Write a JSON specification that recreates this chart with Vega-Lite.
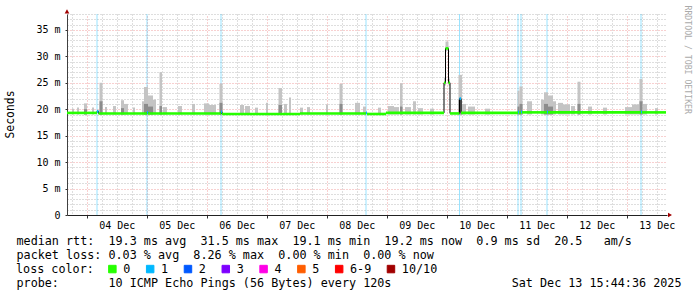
{
  "$schema": "https://vega.github.io/schema/vega-lite/v6.json",
  "width": 600,
  "height": 201,
  "autosize": {"type": "none"},
  "padding": {"left": 67, "top": 14, "right": 30, "bottom": 82},
  "background": "white",
  "config": {"view": {"stroke": null}, "font": "DejaVu Sans Mono"},
  "datasets": {
    "smoke": [
      {"t0": "2025-12-03T18:07:00Z", "t1": "2025-12-03T18:55:00Z", "lo": 19.0, "hi": 20.1},
      {"t0": "2025-12-03T20:07:00Z", "t1": "2025-12-03T20:55:00Z", "lo": 19.0, "hi": 20.3},
      {"t0": "2025-12-03T22:55:00Z", "t1": "2025-12-04T00:07:00Z", "lo": 19.0, "hi": 21.1, "mid": 20.0},
      {"t0": "2025-12-04T02:07:00Z", "t1": "2025-12-04T02:55:00Z", "lo": 19.0, "hi": 20.3},
      {"t0": "2025-12-04T05:07:00Z", "t1": "2025-12-04T06:19:00Z", "lo": 19.0, "hi": 25.0, "mid": 21.5},
      {"t0": "2025-12-04T07:19:00Z", "t1": "2025-12-04T08:07:00Z", "lo": 19.0, "hi": 20.4},
      {"t0": "2025-12-04T10:31:00Z", "t1": "2025-12-04T11:43:00Z", "lo": 19.0, "hi": 20.6},
      {"t0": "2025-12-04T13:43:00Z", "t1": "2025-12-04T14:55:00Z", "lo": 19.0, "hi": 21.7, "mid": 20.2},
      {"t0": "2025-12-04T14:55:00Z", "t1": "2025-12-04T16:31:00Z", "lo": 19.0, "hi": 21.0},
      {"t0": "2025-12-04T18:31:00Z", "t1": "2025-12-04T19:19:00Z", "lo": 19.0, "hi": 20.3},
      {"t0": "2025-12-04T22:07:00Z", "t1": "2025-12-04T22:55:00Z", "lo": 19.0, "hi": 21.5},
      {"t0": "2025-12-04T22:55:00Z", "t1": "2025-12-05T00:31:00Z", "lo": 19.0, "hi": 24.2, "mid": 21.0},
      {"t0": "2025-12-05T00:31:00Z", "t1": "2025-12-05T02:31:00Z", "lo": 19.0, "hi": 22.6, "mid": 20.5},
      {"t0": "2025-12-05T02:31:00Z", "t1": "2025-12-05T03:43:00Z", "lo": 19.0, "hi": 21.8},
      {"t0": "2025-12-05T05:07:00Z", "t1": "2025-12-05T06:07:00Z", "lo": 19.0, "hi": 27.0, "mid": 20.6},
      {"t0": "2025-12-05T06:31:00Z", "t1": "2025-12-05T08:07:00Z", "lo": 19.0, "hi": 20.4},
      {"t0": "2025-12-05T12:31:00Z", "t1": "2025-12-05T14:07:00Z", "lo": 19.0, "hi": 20.6},
      {"t0": "2025-12-05T18:07:00Z", "t1": "2025-12-05T19:19:00Z", "lo": 19.0, "hi": 21.0},
      {"t0": "2025-12-05T22:55:00Z", "t1": "2025-12-06T00:55:00Z", "lo": 19.0, "hi": 21.1},
      {"t0": "2025-12-06T00:55:00Z", "t1": "2025-12-06T03:43:00Z", "lo": 19.0, "hi": 20.8},
      {"t0": "2025-12-06T05:07:00Z", "t1": "2025-12-06T06:19:00Z", "lo": 19.0, "hi": 24.8, "mid": 21.2},
      {"t0": "2025-12-06T13:19:00Z", "t1": "2025-12-06T14:55:00Z", "lo": 19.0, "hi": 20.8},
      {"t0": "2025-12-06T15:19:00Z", "t1": "2025-12-06T17:19:00Z", "lo": 19.0, "hi": 20.6},
      {"t0": "2025-12-06T19:19:00Z", "t1": "2025-12-06T20:31:00Z", "lo": 19.0, "hi": 20.3},
      {"t0": "2025-12-06T23:43:00Z", "t1": "2025-12-07T00:31:00Z", "lo": 19.0, "hi": 21.2},
      {"t0": "2025-12-07T04:43:00Z", "t1": "2025-12-07T06:07:00Z", "lo": 19.0, "hi": 24.0, "mid": 20.8},
      {"t0": "2025-12-07T06:55:00Z", "t1": "2025-12-07T08:07:00Z", "lo": 19.0, "hi": 21.0},
      {"t0": "2025-12-07T08:55:00Z", "t1": "2025-12-07T09:43:00Z", "lo": 19.0, "hi": 22.2},
      {"t0": "2025-12-07T13:19:00Z", "t1": "2025-12-07T14:31:00Z", "lo": 19.0, "hi": 20.3},
      {"t0": "2025-12-07T16:07:00Z", "t1": "2025-12-07T17:19:00Z", "lo": 19.0, "hi": 20.4},
      {"t0": "2025-12-07T23:43:00Z", "t1": "2025-12-08T00:31:00Z", "lo": 19.0, "hi": 20.9},
      {"t0": "2025-12-08T05:07:00Z", "t1": "2025-12-08T06:19:00Z", "lo": 19.0, "hi": 24.8, "mid": 21.0},
      {"t0": "2025-12-08T11:19:00Z", "t1": "2025-12-08T13:19:00Z", "lo": 19.0, "hi": 21.2},
      {"t0": "2025-12-08T14:31:00Z", "t1": "2025-12-08T15:43:00Z", "lo": 19.0, "hi": 20.5},
      {"t0": "2025-12-08T20:31:00Z", "t1": "2025-12-08T21:43:00Z", "lo": 19.0, "hi": 20.3},
      {"t0": "2025-12-09T00:31:00Z", "t1": "2025-12-09T02:55:00Z", "lo": 19.0, "hi": 20.6},
      {"t0": "2025-12-09T02:55:00Z", "t1": "2025-12-09T04:55:00Z", "lo": 19.0, "hi": 20.4},
      {"t0": "2025-12-09T05:19:00Z", "t1": "2025-12-09T06:19:00Z", "lo": 19.0, "hi": 24.9, "mid": 20.5},
      {"t0": "2025-12-09T07:19:00Z", "t1": "2025-12-09T09:43:00Z", "lo": 19.0, "hi": 20.4},
      {"t0": "2025-12-09T10:31:00Z", "t1": "2025-12-09T11:43:00Z", "lo": 19.0, "hi": 21.5},
      {"t0": "2025-12-09T12:31:00Z", "t1": "2025-12-09T14:31:00Z", "lo": 19.0, "hi": 20.2},
      {"t0": "2025-12-09T17:19:00Z", "t1": "2025-12-09T18:55:00Z", "lo": 19.0, "hi": 20.1},
      {"t0": "2025-12-09T22:55:00Z", "t1": "2025-12-09T23:43:00Z", "lo": 24.5, "hi": 26.0},
      {"t0": "2025-12-09T23:31:00Z", "t1": "2025-12-10T00:43:00Z", "lo": 31.0, "hi": 32.8},
      {"t0": "2025-12-10T00:43:00Z", "t1": "2025-12-10T01:19:00Z", "lo": 24.5, "hi": 25.8},
      {"t0": "2025-12-10T04:43:00Z", "t1": "2025-12-10T06:07:00Z", "lo": 19.0, "hi": 26.5, "mid": 21.8},
      {"t0": "2025-12-10T06:07:00Z", "t1": "2025-12-10T07:43:00Z", "lo": 19.0, "hi": 21.0},
      {"t0": "2025-12-10T08:31:00Z", "t1": "2025-12-10T11:19:00Z", "lo": 19.0, "hi": 20.5},
      {"t0": "2025-12-10T15:19:00Z", "t1": "2025-12-10T17:19:00Z", "lo": 19.0, "hi": 20.1},
      {"t0": "2025-12-11T04:19:00Z", "t1": "2025-12-11T05:07:00Z", "lo": 19.0, "hi": 23.5, "mid": 20.5},
      {"t0": "2025-12-11T05:07:00Z", "t1": "2025-12-11T06:19:00Z", "lo": 19.0, "hi": 24.3, "mid": 21.0},
      {"t0": "2025-12-11T08:07:00Z", "t1": "2025-12-11T10:07:00Z", "lo": 19.0, "hi": 21.5},
      {"t0": "2025-12-11T13:43:00Z", "t1": "2025-12-11T14:55:00Z", "lo": 19.0, "hi": 21.8},
      {"t0": "2025-12-11T14:55:00Z", "t1": "2025-12-11T16:31:00Z", "lo": 19.0, "hi": 23.2, "mid": 21.0},
      {"t0": "2025-12-11T16:31:00Z", "t1": "2025-12-11T18:31:00Z", "lo": 19.0, "hi": 22.6, "mid": 20.5},
      {"t0": "2025-12-11T18:31:00Z", "t1": "2025-12-11T19:43:00Z", "lo": 19.0, "hi": 21.5},
      {"t0": "2025-12-11T20:31:00Z", "t1": "2025-12-11T22:31:00Z", "lo": 19.0, "hi": 21.2},
      {"t0": "2025-12-11T22:31:00Z", "t1": "2025-12-12T01:19:00Z", "lo": 19.0, "hi": 20.9},
      {"t0": "2025-12-12T01:43:00Z", "t1": "2025-12-12T03:19:00Z", "lo": 19.0, "hi": 20.6},
      {"t0": "2025-12-12T04:19:00Z", "t1": "2025-12-12T05:31:00Z", "lo": 19.0, "hi": 25.2, "mid": 21.0},
      {"t0": "2025-12-12T08:31:00Z", "t1": "2025-12-12T10:07:00Z", "lo": 19.0, "hi": 20.5},
      {"t0": "2025-12-12T14:31:00Z", "t1": "2025-12-12T16:07:00Z", "lo": 19.0, "hi": 20.3},
      {"t0": "2025-12-12T23:19:00Z", "t1": "2025-12-13T02:07:00Z", "lo": 19.0, "hi": 20.4},
      {"t0": "2025-12-13T02:07:00Z", "t1": "2025-12-13T04:55:00Z", "lo": 19.0, "hi": 20.9},
      {"t0": "2025-12-13T05:07:00Z", "t1": "2025-12-13T06:19:00Z", "lo": 19.0, "hi": 25.7, "mid": 21.5},
      {"t0": "2025-12-13T06:31:00Z", "t1": "2025-12-13T08:07:00Z", "lo": 19.0, "hi": 21.0},
      {"t0": "2025-12-13T11:19:00Z", "t1": "2025-12-13T12:31:00Z", "lo": 19.0, "hi": 20.2}
    ],
    "median": [
      {"t0": "2025-12-03T16:07:00Z", "t1": "2025-12-04T04:07:00Z", "med": 19.3, "loss": "0"},
      {"t0": "2025-12-04T04:07:00Z", "t1": "2025-12-04T04:43:00Z", "med": 19.6, "loss": "1"},
      {"t0": "2025-12-04T04:43:00Z", "t1": "2025-12-05T00:07:00Z", "med": 19.2, "loss": "0"},
      {"t0": "2025-12-05T00:07:00Z", "t1": "2025-12-05T00:31:00Z", "med": 19.4, "loss": "1"},
      {"t0": "2025-12-05T00:31:00Z", "t1": "2025-12-06T05:43:00Z", "med": 19.2, "loss": "0"},
      {"t0": "2025-12-06T05:43:00Z", "t1": "2025-12-06T06:07:00Z", "med": 19.5, "loss": "1"},
      {"t0": "2025-12-06T06:07:00Z", "t1": "2025-12-07T13:19:00Z", "med": 19.1, "loss": "0"},
      {"t0": "2025-12-07T13:19:00Z", "t1": "2025-12-08T15:43:00Z", "med": 19.2, "loss": "0"},
      {"t0": "2025-12-08T15:43:00Z", "t1": "2025-12-08T16:07:00Z", "med": 19.3, "loss": "1"},
      {"t0": "2025-12-08T16:07:00Z", "t1": "2025-12-08T23:43:00Z", "med": 19.1, "loss": "0"},
      {"t0": "2025-12-08T23:43:00Z", "t1": "2025-12-09T22:55:00Z", "med": 19.3, "loss": "0"},
      {"t0": "2025-12-09T22:55:00Z", "t1": "2025-12-09T23:31:00Z", "med": 25.0, "loss": "0"},
      {"t0": "2025-12-09T23:31:00Z", "t1": "2025-12-10T00:43:00Z", "med": 31.5, "loss": "0"},
      {"t0": "2025-12-10T00:43:00Z", "t1": "2025-12-10T01:19:00Z", "med": 25.0, "loss": "0"},
      {"t0": "2025-12-10T01:19:00Z", "t1": "2025-12-10T05:07:00Z", "med": 19.2, "loss": "0"},
      {"t0": "2025-12-10T05:07:00Z", "t1": "2025-12-10T05:43:00Z", "med": 22.0, "loss": "1"},
      {"t0": "2025-12-10T05:43:00Z", "t1": "2025-12-11T04:31:00Z", "med": 19.3, "loss": "0"},
      {"t0": "2025-12-11T04:31:00Z", "t1": "2025-12-11T04:55:00Z", "med": 19.5, "loss": "1"},
      {"t0": "2025-12-11T04:55:00Z", "t1": "2025-12-11T05:43:00Z", "med": 19.3, "loss": "0"},
      {"t0": "2025-12-11T05:43:00Z", "t1": "2025-12-11T06:07:00Z", "med": 19.5, "loss": "1"},
      {"t0": "2025-12-11T06:07:00Z", "t1": "2025-12-11T16:07:00Z", "med": 19.4, "loss": "0"},
      {"t0": "2025-12-11T16:07:00Z", "t1": "2025-12-11T16:31:00Z", "med": 19.5, "loss": "1"},
      {"t0": "2025-12-11T16:31:00Z", "t1": "2025-12-13T05:43:00Z", "med": 19.4, "loss": "0"},
      {"t0": "2025-12-13T05:43:00Z", "t1": "2025-12-13T06:07:00Z", "med": 19.5, "loss": "1"},
      {"t0": "2025-12-13T06:07:00Z", "t1": "2025-12-13T15:43:00Z", "med": 19.4, "loss": "0"}
    ]
  },
  "layer": [
    {
      "data": {"name": "median"},
      "transform": [{"filter": "datum.loss != '0'"}],
      "mark": {"type": "rule", "stroke": "#00b8ff", "opacity": 0.4, "strokeWidth": 1},
      "encoding": {
        "x": {
          "field": "t0", "type": "temporal",
          "scale": {"type": "utc", "domain": [1764778020000, 1765642020000]},
          "axis": {
            "orient": "bottom",
            "values": [1764806400000, 1764892800000, 1764979200000, 1765065600000, 1765152000000, 1765238400000, 1765324800000, 1765411200000, 1765497600000, 1765584000000],
            "grid": true, "gridColor": "#f0a0a0", "gridDash": [1, 2], "gridWidth": 1,
            "labelExpr": "utcFormat(datum.value, '%d %b')",
            "labelOffset": 30, "labelFlush": false, "labelOverlap": false, "labelBound": false,
            "labelFont": "DejaVu Sans Mono", "labelFontSize": 10, "labelColor": "black", "labelPadding": 2,
            "ticks": true, "tickSize": 3, "tickColor": "#333333",
            "domain": true, "domainColor": "#222222", "domainWidth": 1,
            "title": [
              "median rtt:\u00a0\u00a019.3 ms avg\u00a0\u00a031.5 ms max\u00a0\u00a019.1 ms min\u00a0\u00a019.2 ms now\u00a0\u00a00.9 ms sd\u00a0\u00a020.5\u00a0\u00a0\u00a0am/s",
              "packet loss: 0.03 % avg\u00a0\u00a08.26 % max\u00a0\u00a00.00 % min\u00a0\u00a00.00 % now"
            ],
            "titleX": -51, "titleY": 29.5, "titleAlign": "left", "titleBaseline": "alphabetic", "titleAngle": 0,
            "titleFont": "DejaVu Sans Mono", "titleFontSize": 11.75, "titleFontWeight": "normal", "titleColor": "black", "titleLineHeight": 14
          }
        }
      }
    },
    {
      "data": {"name": "smoke"},
      "mark": {"type": "rect", "color": "#c4c4c4"},
      "encoding": {
        "x": {
          "field": "t0", "type": "temporal",
          "axis": {
            "orient": "bottom",
            "values": [1764784800000, 1764828000000, 1764849600000, 1764871200000, 1764914400000, 1764936000000, 1764957600000, 1765000800000, 1765022400000, 1765044000000, 1765087200000, 1765108800000, 1765130400000, 1765173600000, 1765195200000, 1765216800000, 1765260000000, 1765281600000, 1765303200000, 1765346400000, 1765368000000, 1765389600000, 1765432800000, 1765454400000, 1765476000000, 1765519200000, 1765540800000, 1765562400000, 1765605600000, 1765627200000],
            "grid": true, "gridColor": "#bdbdbd", "gridDash": [1, 2], "gridWidth": 1,
            "labels": false, "ticks": false, "domain": false,
            "title": "probe:\u00a0\u00a0\u00a0\u00a0\u00a0\u00a0\u00a010 ICMP Echo Pings (56 Bytes) every 120s\u00a0\u00a0\u00a0\u00a0\u00a0\u00a0\u00a0\u00a0\u00a0\u00a0\u00a0\u00a0\u00a0\u00a0\u00a0\u00a0\u00a0Sat Dec 13 15:44:36 2025",
            "titleX": -51, "titleY": 71.5, "titleAlign": "left", "titleBaseline": "alphabetic", "titleAngle": 0,
            "titleFont": "DejaVu Sans Mono", "titleFontSize": 11.75, "titleFontWeight": "normal", "titleColor": "black"
          }
        },
        "x2": {"field": "t1"},
        "y": {
          "field": "lo", "type": "quantitative",
          "scale": {"domain": [0, 38], "nice": false},
          "axis": {
            "orient": "left",
            "values": [1, 2, 3, 4, 6, 7, 8, 9, 11, 12, 13, 14, 16, 17, 18, 19, 21, 22, 23, 24, 26, 27, 28, 29, 31, 32, 33, 34, 36, 37, 38],
            "grid": true, "gridColor": "#bdbdbd", "gridDash": [1, 2], "gridWidth": 1,
            "labels": false, "ticks": false, "domain": false, "title": null
          }
        },
        "y2": {"field": "hi"}
      }
    },
    {
      "data": {"name": "smoke"},
      "transform": [{"filter": "isValid(datum.mid)"}],
      "mark": {"type": "rect", "color": "#8c8c8c"},
      "encoding": {
        "x": {"field": "t0", "type": "temporal", "axis": null},
        "x2": {"field": "t1"},
        "y": {"field": "lo", "type": "quantitative", "axis": null},
        "y2": {"field": "mid"}
      }
    },
    {
      "data": {"name": "median"},
      "mark": {"type": "line", "interpolate": "step-after", "color": "black", "strokeWidth": 1},
      "encoding": {
        "x": {"field": "t0", "type": "temporal", "axis": null},
        "y": {
          "field": "med", "type": "quantitative",
          "axis": {
            "orient": "left",
            "values": [0, 5, 10, 15, 20, 25, 30, 35],
            "grid": true, "gridColor": "#f0a0a0", "gridDash": [1, 2], "gridWidth": 1,
            "labelExpr": "datum.value == 0 ? '0\u00a0\u00a0' : datum.value + ' m'",
            "labelFont": "DejaVu Sans Mono", "labelFontSize": 10, "labelColor": "black", "labelPadding": 5,
            "ticks": true, "tickSize": 2, "tickColor": "#333333",
            "domain": true, "domainColor": "#404040", "domainWidth": 1,
            "title": "Seconds", "titleX": -57, "titleY": 100, "titleAngle": -90, "titleAlign": "center", "titleBaseline": "middle",
            "titleFont": "DejaVu Sans Mono", "titleFontSize": 11.4, "titleFontWeight": "normal", "titleColor": "black"
          }
        }
      }
    },
    {
      "data": {"name": "median"},
      "mark": {"type": "rule", "strokeWidth": 2.6, "strokeCap": "butt"},
      "encoding": {
        "x": {"field": "t0", "type": "temporal", "axis": null},
        "x2": {"field": "t1"},
        "y": {
          "field": "med", "type": "quantitative",
          "axis": {
            "orient": "right", "labels": false, "ticks": false, "domain": false, "grid": false,
            "title": "RRDTOOL / TOBI OETIKER", "titleX": 19, "titleY": -9, "titleAngle": 90, "titleAlign": "left", "titleBaseline": "middle",
            "titleFont": "DejaVu Sans Mono", "titleFontSize": 8.2, "titleFontWeight": "normal", "titleColor": "#aaaaaa"
          }
        },
        "color": {
          "field": "loss", "type": "nominal",
          "scale": {"domain": ["0", "1", "2", "3", "4", "5", "6-9", "10/10"], "range": ["#26ff00", "#00b8ff", "#0059ff", "#7e00ff", "#ff00e6", "#ff5e00", "#ff0000", "#a10000"]},
          "legend": {
            "orient": "none", "legendX": -51, "legendY": 249, "direction": "horizontal", "columns": 8,
            "title": "loss color:", "titleOrient": "left", "titlePadding": 12.5,
            "titleFont": "DejaVu Sans Mono", "titleFontSize": 11.75, "titleFontWeight": "normal", "titleColor": "black",
            "labelFont": "DejaVu Sans Mono", "labelFontSize": 11.75, "labelColor": "black", "labelOffset": 5,
            "symbolType": "square", "symbolSize": 56, "symbolStrokeWidth": 1, "columnPadding": 13.8, "padding": 0,
            "encode": {"symbols": {"update": {"fill": {"scale": "color", "field": "value"}, "stroke": {"value": "black"}, "opacity": {"value": 1}, "fillOpacity": {"value": 1}, "strokeWidth": {"value": 1}}}}
          }
        }
      }
    },
    {
      "data": {"values": [{"arrow": "y"}]},
      "mark": {"type": "point", "shape": "triangle-up", "filled": true, "color": "#a00000", "size": 22, "opacity": 1},
      "encoding": {
        "x": {"datum": 1764778020000, "type": "temporal", "axis": null},
        "y": {"datum": 38.5, "type": "quantitative", "axis": null}
      }
    },
    {
      "data": {"values": [{"arrow": "x"}]},
      "mark": {"type": "point", "shape": "triangle-right", "filled": true, "color": "#a00000", "size": 22, "opacity": 1},
      "encoding": {
        "x": {"datum": 1765646340000, "type": "temporal", "axis": null},
        "y": {"datum": 0, "type": "quantitative", "axis": null}
      }
    }
  ],
  "resolve": {"axis": {"x": "independent", "y": "independent"}}
}
